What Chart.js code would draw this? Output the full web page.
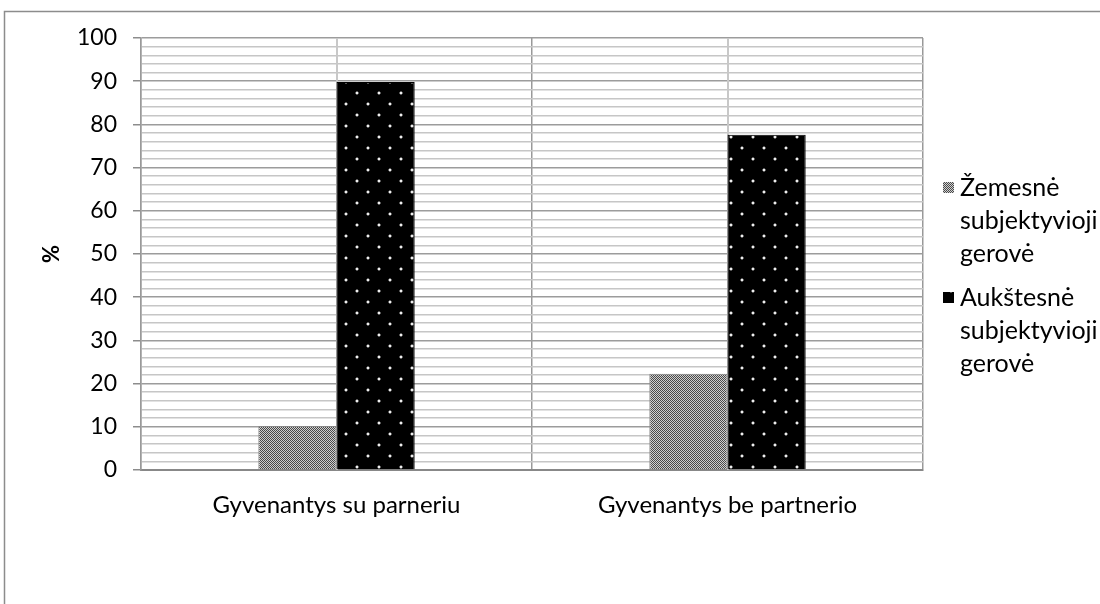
<!DOCTYPE html>
<html>
<head>
<meta charset="utf-8">
<script src="https://cdn.jsdelivr.net/npm/chart.js@4/dist/chart.umd.min.js"></script>
<style>
    html, body { margin: 0; padding: 0; background: #fff; }
    #wrap { width: 1100px; height: 604px; position: relative; }
</style>
</head>
<body>
<div id="wrap"><canvas id="chart"></canvas></div>
<script>
// Data
const categories = ["Gyvenantys su parneriu", "Gyvenantys be partnerio"];
const lowerLabel = ["Žemesnė", "subjektyvioji", "gerovė"];
const higherLabel = ["Aukštesnė", "subjektyvioji", "gerovė"];
const lowerValues = [10.2, 22.3];
const higherValues = [89.8, 77.6];
const yTickLabels = [0, 10, 20, 30, 40, 50, 60, 70, 80, 90, 100];

// Patterns
function grayPattern() {
    const c = document.createElement("canvas");
    c.width = 2;
    c.height = 2;
    const g = c.getContext("2d");
    g.fillStyle = "#d0d0d0";
    g.fillRect(0, 0, 2, 2);
    g.fillStyle = "#4a4a4a";
    g.fillRect(0, 0, 1, 1);
    g.fillRect(1, 1, 1, 1);
    return g.createPattern(c, "repeat");
}

function dotPattern() {
    const c = document.createElement("canvas");
    c.width = 22;
    c.height = 22;
    const g = c.getContext("2d");
    g.fillStyle = "#000";
    g.fillRect(0, 0, 22, 22);
    g.fillStyle = "#555";
    g.fillRect(3, 4, 4, 2);
    g.fillRect(4, 3, 2, 4);
    g.fillRect(14, 15, 4, 2);
    g.fillRect(15, 14, 2, 4);
    g.fillStyle = "#eee";
    g.fillRect(4, 4, 2, 2);
    g.fillRect(15, 15, 2, 2);
    return g.createPattern(c, "repeat");
}

const grayFill = grayPattern();
const dotFill = dotPattern();

// Outer frame
const framePlugin = {
    id: "frame",
    beforeDraw(chart) {
        const ctx = chart.ctx;
        ctx.save();
        ctx.fillStyle = "#fff";
        ctx.fillRect(0, 0, chart.width, chart.height);
        ctx.strokeStyle = "#8c8c8c";
        ctx.lineWidth = 1.5;
        ctx.strokeRect(4.5, 11.5, 1200, 700);
        ctx.restore();
    },
};

// Light vertical lines at category centres
const centerLines = {
    id: "centerLines",
    beforeDatasetsDraw(chart) {
        const ctx = chart.ctx;
        const x = chart.scales.x;
        const area = chart.chartArea;
        ctx.save();
        ctx.strokeStyle = "#c8c8c8";
        ctx.lineWidth = 2;
        categories.forEach((c, i) => {
            const px = Math.round(x.getPixelForValue(i));
            ctx.beginPath();
            ctx.moveTo(px, area.top);
            ctx.lineTo(px, area.bottom);
            ctx.stroke();
        });
        ctx.restore();
    },
};

// Legend with wrapped labels
const sideLegend = {
    id: "sideLegend",
    afterDraw(chart) {
        const ctx = chart.ctx;
        const lineH = 33;
        const fills = [grayFill, dotFill];
        ctx.save();
        ctx.font = "25px Lato";
        ctx.textBaseline = "middle";
        chart.data.datasets.forEach((ds, i) => {
            const y0 = 188 + i * 110;
            ctx.fillStyle = fills[i];
            ctx.fillRect(943, y0 - 6, 11, 11);
            ctx.fillStyle = "#000";
            ds.label.forEach((t, j) => {
                ctx.fillText(t, 960, y0 + j * lineH);
            });
        });
        ctx.restore();
    },
};

const ctx = document.getElementById("chart").getContext("2d");
const chart = new Chart(ctx, {
    type: "bar",
    data: {
        labels: categories,
        datasets: [
            {
                label: lowerLabel,
                data: lowerValues,
                backgroundColor: grayFill,
                borderColor: "#888",
                borderWidth: 1,
                categoryPercentage: 0.4,
                barPercentage: 1,
            },
            {
                label: higherLabel,
                data: higherValues,
                backgroundColor: dotFill,
                borderColor: "#000",
                borderWidth: 1,
                categoryPercentage: 0.4,
                barPercentage: 1,
            },
        ],
    },
    options: {
        responsive: true,
        maintainAspectRatio: false,
        animation: false,
        layout: {
            padding: { left: 0, top: 38, right: 177, bottom: 0 },
        },
        plugins: {
            legend: { display: false },
            tooltip: { enabled: false },
        },
        scales: {
            x: {
                afterFit(s) {
                    s.height = 134;
                },
                grid: {
                    offset: true,
                    color: "#999",
                    lineWidth: 1.5,
                    drawTicks: false,
                },
                border: { color: "#888", width: 2 },
                ticks: {
                    color: "#000",
                    padding: 21,
                    font: { family: "Lato", size: 24 },
                },
            },
            y: {
                min: 0,
                max: 100,
                afterFit(s) {
                    s.width = 141;
                },
                afterBuildTicks(s) {
                    const t = [];
                    for (let v = 0; v <= 100; v += 2) t.push({ value: v });
                    s.ticks = t;
                },
                grid: {
                    color: (c) =>
                        yTickLabels.includes(c.tick.value) ? "#9c9c9c" : "#c6c6c6",
                    tickColor: (c) =>
                        yTickLabels.includes(c.tick.value) ? "#8c8c8c" : "rgba(0,0,0,0)",
                    lineWidth: 1.5,
                    tickLength: 8,
                },
                border: { color: "#999", width: 1.5 },
                ticks: {
                    color: "#000",
                    padding: 16,
                    autoSkip: false,
                    font: { family: "Lato", size: 23 },
                    callback: (v) => (yTickLabels.includes(v) ? v : ""),
                },
                title: {
                    display: true,
                    text: "%",
                    color: "#000",
                    font: { family: "Lato", size: 22, weight: "bold" },
                    padding: { top: 39, bottom: 0 },
                },
            },
        },
    },
    plugins: [framePlugin, centerLines, sideLegend],
});
</script>
</body>
</html>
